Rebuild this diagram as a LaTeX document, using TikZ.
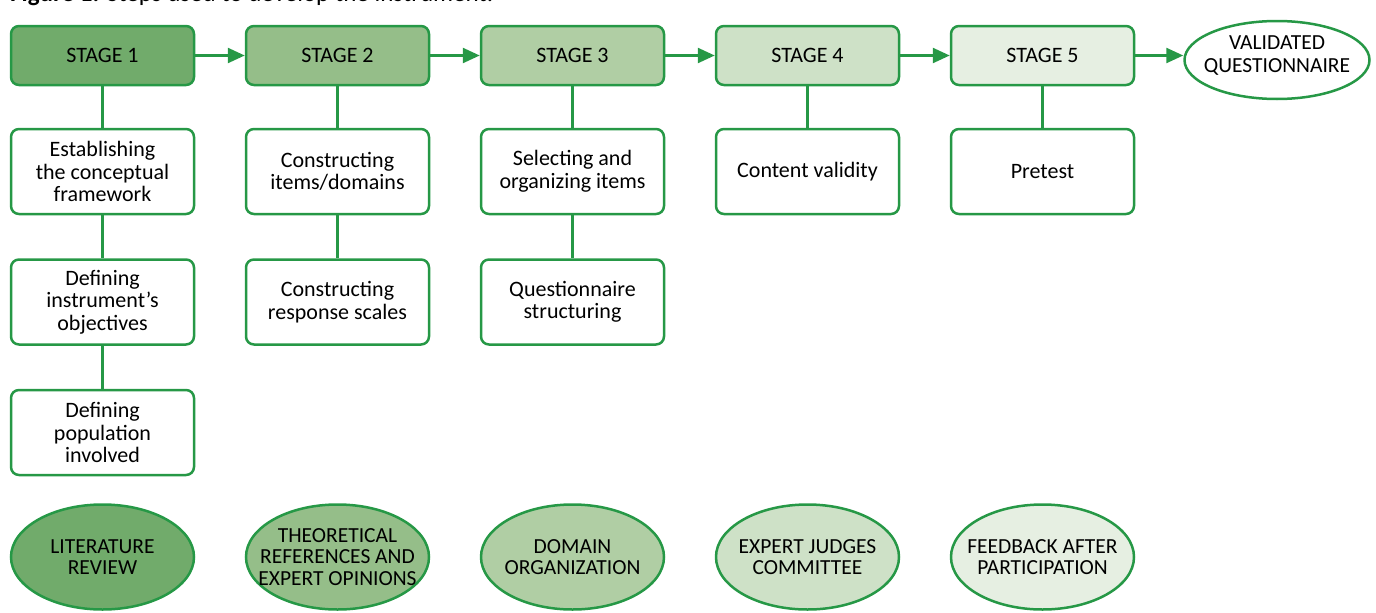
\documentclass[tikz,border=0pt]{standalone}
\usepackage{fontspec}
\setmainfont{Carlito}
\usetikzlibrary{arrows.meta,shapes.geometric}

\definecolor{edgegreen}{RGB}{38,152,70}
\definecolor{tintA}{RGB}{113,171,107}
\definecolor{tintB}{RGB}{149,190,137}
\definecolor{tintC}{RGB}{176,206,164}
\definecolor{tintD}{RGB}{206,225,199}
\definecolor{tintE}{RGB}{230,239,226}

\tikzset{
  stagebox/.style={draw=edgegreen, line width=2.5pt, rounded corners=8pt,
    minimum width=183pt, minimum height=59pt, inner sep=0pt, align=center,
    font=\fontsize{22}{22.5}\selectfont},
  itembox/.style={stagebox, fill=white, minimum height=85pt},
  resultoval/.style={ellipse, draw=edgegreen, line width=2.5pt,
    minimum width=183pt, minimum height=105pt, inner xsep=-25pt, inner ysep=0pt,
    align=center, font=\fontsize{21.5}{21.5}\selectfont},
  link/.style={draw=edgegreen, line width=2.5pt},
  flow/.style={link, -{Triangle[length=17pt,width=15pt]}}
}

\begin{document}
\begin{tikzpicture}[x=1pt,y=-1pt]
    \useasboundingbox (0,0) rectangle (1376,613);

    % caption, cut at the top edge
    \node[anchor=base west, inner sep=0pt, font=\fontsize{25}{27}\selectfont] (caption) at (10,1.5)
        {\textbf{Figure 1.} Steps used to develop the instrument.};

    % stages
    \node[stagebox, fill=tintA] (s1) at (102.5,55.5) {STAGE 1};
    \node[stagebox, fill=tintB] (s2) at (337.5,55.5) {STAGE 2};
    \node[stagebox, fill=tintC] (s3) at (572.5,55.5) {STAGE 3};
    \node[stagebox, fill=tintD] (s4) at (807.5,55.5) {STAGE 4};
    \node[stagebox, fill=tintE] (s5) at (1042.5,55.5) {STAGE 5};
    \node[resultoval, minimum width=185pt, minimum height=78pt, text depth=12pt, fill=white] (valid) at (1277,60)
        {VALIDATED\\[1.5pt]QUESTIONNAIRE};

    \draw[flow] (s1) -- (s2);
    \draw[flow] (s2) -- (s3);
    \draw[flow] (s3) -- (s4);
    \draw[flow] (s4) -- (s5);
    \draw[flow] (s5.east) -- (s5.east -| valid.west);

    % steps of each stage
    \node[itembox] (a1) at (102.5,171.5) {Establishing\\the conceptual\\framework};
    \node[itembox] (a2) at (102.5,302) {Defining\\instrument’s\\objectives};
    \node[itembox] (a3) at (102.5,432.5) {Defining\\population\\involved};
    \node[itembox] (b1) at (337.5,171.5) {Constructing\\items/domains};
    \node[itembox] (b2) at (337.5,302) {Constructing\\response scales};
    \node[itembox] (c1) at (572.5,171.5) {Selecting and\\organizing items};
    \node[itembox] (c2) at (572.5,302) {Questionnaire\\structuring};
    \node[itembox] (d1) at (807.5,171.5) {Content validity};
    \node[itembox] (e1) at (1042.5,171.5) {Pretest};

    \draw[link] (s1.south) -- (a1.north);
    \draw[link] (a1.south) -- (a2.north);
    \draw[link] (a2.south) -- (a3.north);
    \draw[link] (s2.south) -- (b1.north);
    \draw[link] (b1.south) -- (b2.north);
    \draw[link] (s3.south) -- (c1.north);
    \draw[link] (c1.south) -- (c2.north);
    \draw[link] (s4.south) -- (d1.north);
    \draw[link] (s5.south) -- (e1.north);

    % sources
    \node[resultoval, fill=tintA] (r1) at (102.5,557) {LITERATURE\\REVIEW};
    \node[resultoval, fill=tintB] (r2) at (337.5,557) {THEORETICAL\\REFERENCES AND\\EXPERT OPINIONS};
    \node[resultoval, fill=tintC] (r3) at (572.5,557) {DOMAIN\\ORGANIZATION};
    \node[resultoval, fill=tintD] (r4) at (807.5,557) {EXPERT JUDGES\\COMMITTEE};
    \node[resultoval, fill=tintE] (r5) at (1042.5,557) {FEEDBACK AFTER\\PARTICIPATION};
\end{tikzpicture}
\end{document}
